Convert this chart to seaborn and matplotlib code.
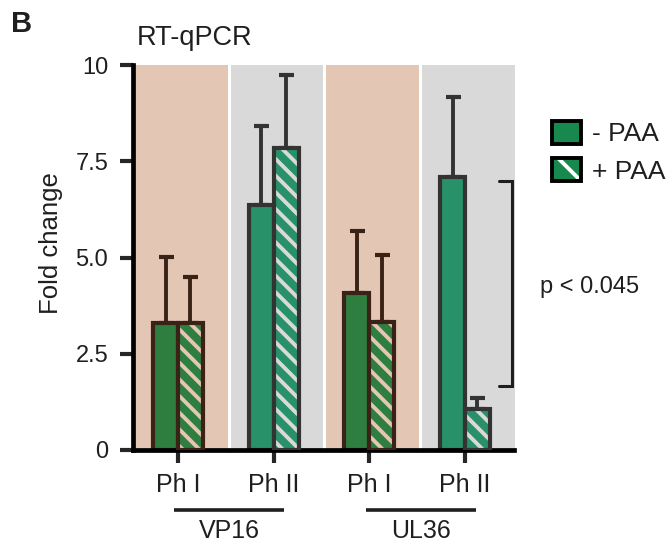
import numpy as np
import pandas as pd
import matplotlib
matplotlib.use("Agg")
import matplotlib.pyplot as plt
import seaborn as sns
from matplotlib.patches import Patch, Rectangle
from matplotlib.legend_handler import HandlerTuple

# ---- data ----
conditions = ["VP16 Ph I", "VP16 Ph II", "UL36 Ph I", "UL36 Ph II"]
phase_labels = ["Ph I", "Ph II", "Ph I", "Ph II"]
genes = ["VP16", "UL36"]
treatments = ["- PAA", "+ PAA"]
minus_paa = [3.30, 6.36, 4.08, 7.09]
plus_paa = [3.30, 7.84, 3.32, 1.06]
minus_err = [1.71, 2.06, 1.61, 2.08]
plus_err = [1.19, 1.90, 1.74, 0.29]
y_ticks = [0, 2.5, 5.0, 7.5, 10]
y_tick_labels = ["0", "2.5", "5.0", "7.5", "10"]
p_label = "p < 0.045"

df = pd.DataFrame({
    "condition": conditions * 2,
    "treatment": [treatments[0]] * 4 + [treatments[1]] * 4,
    "fold": minus_paa + plus_paa,
})

# ---- style ----
sns.set_style("ticks")
plt.rcParams["font.family"] = ["Liberation Sans", "DejaVu Sans"]
plt.rcParams["hatch.linewidth"] = 2.8
TXT = "#1f1f1f"

PEACH = "#e3c6b3"
GRAY = "#d9d9d9"
band_col = [PEACH, GRAY]
fill_col = ["#2e7e40", "#28916a"]
edge_col = ["#3a2216", "#333333"]
stripe_col = [PEACH, GRAY]

W, H = 667, 547
fig = plt.figure(figsize=(W / 100, H / 100), dpi=100)
ax = fig.add_axes([132.5 / W, 1 - 450 / H, 382 / W, 385 / H])

sns.barplot(data=df, x="condition", y="fold", hue="treatment",
            order=conditions, hue_order=treatments, width=0.52,
            dodge=True, errorbar=None, legend=False, saturation=1, ax=ax)

bars = sorted(ax.patches, key=lambda p: p.get_x())
values = [minus_paa, plus_paa]
errors = [minus_err, plus_err]

for k, bar in enumerate(bars):
    g, t = divmod(k, 2)
    ph = g % 2
    bar.set_zorder(2)
    bar.set_facecolor(fill_col[ph])
    if t == 0:
        bar.set_edgecolor(edge_col[ph])
        bar.set_linewidth(3.0)
    else:
        bar.set_edgecolor(stripe_col[ph])
        bar.set_linewidth(0)
        bar.set_hatch("\\\\")
        ax.add_patch(Rectangle((bar.get_x(), 0), bar.get_width(), bar.get_height(),
                               fill=False, edgecolor=edge_col[ph], lw=3.0, zorder=3))
    xc = bar.get_x() + bar.get_width() / 2
    ax.errorbar([xc], [values[t][g]], yerr=[[0], [errors[t][g]]], fmt="none",
                ecolor=edge_col[ph], elinewidth=2.8, capsize=5.4, capthick=3.0,
                zorder=1.5)

# background bands behind each condition
for i in range(len(conditions)):
    ax.axvspan(i - 0.45, i + 0.52, color=band_col[i % 2], lw=0, zorder=0)

ax.set_xlim(-0.475, 3.517)
ax.set_ylim(0, 10)
ax.set_yticks(y_ticks)
ax.set_yticklabels(y_tick_labels)
ax.set_xticks(range(len(conditions)))
ax.set_xticklabels(phase_labels)
ax.set_xlabel("")
ax.set_ylabel("")
sns.despine(ax=ax)
for s in ("left", "bottom"):
    ax.spines[s].set_linewidth(3.4)
    ax.spines[s].set_color("black")
    ax.spines[s].set_capstyle("projecting")
ax.tick_params(axis="y", length=9.5, width=3.0, pad=8, labelsize=17, labelcolor=TXT)
ax.tick_params(axis="x", length=9.5, width=3.0, pad=7, labelsize=18, labelcolor=TXT)

# gene group underlines and names
for gi, gene in enumerate(genes):
    x0, x1 = 2 * gi - 0.04, 2 * gi + 1.11
    ax.plot([x0, x1], [-0.156, -0.156], color=TXT, lw=2.6,
            transform=ax.get_xaxis_transform(), clip_on=False, solid_capstyle="butt")
    ax.text(2 * gi + 0.54, -0.229, gene, ha="center", va="baseline", fontsize=18,
            color=TXT, transform=ax.get_xaxis_transform())

# significance bracket
bx, bx0 = 3.49, 3.355
ax.plot([bx0, bx, bx, bx0], [6.99, 6.99, 1.66, 1.66], color=TXT, lw=2.2,
        clip_on=False, zorder=5, solid_joinstyle="miter")
ax.text(3.78, 4.23, p_label, ha="left", va="center", fontsize=17, color=TXT,
        clip_on=False)

# titles
fig.text(137 / W, 1 - 45 / H, "RT-qPCR", fontsize=19.5, color=TXT, va="baseline")
fig.text(11 / W, 1 - 32 / H, "B", fontsize=21, fontweight="bold", color=TXT,
         va="baseline")
fig.text(51 / W, 1 - 243 / H, "Fold change", rotation=90, ha="center",
         va="center", fontsize=18.5, color=TXT)

# legend
LEG_GREEN = "#17894f"
h_minus = Patch(facecolor=LEG_GREEN, edgecolor="black", lw=2.8)
h_plus = (Patch(facecolor=LEG_GREEN, edgecolor="white", hatch="\\", lw=0),
          Patch(facecolor="none", edgecolor="black", lw=2.8))
fig.legend([h_minus, h_plus], treatments,
           handler_map={tuple: HandlerTuple(ndivide=1, pad=0)},
           loc="upper left", bbox_to_anchor=(552 / W, 1 - 121 / H), frameon=False,
           fontsize=19, handlelength=1.1, handleheight=0.95, handletextpad=0.4,
           labelspacing=0.45, borderpad=0, borderaxespad=0, labelcolor=TXT)

fig.savefig("out.png", dpi=100)
